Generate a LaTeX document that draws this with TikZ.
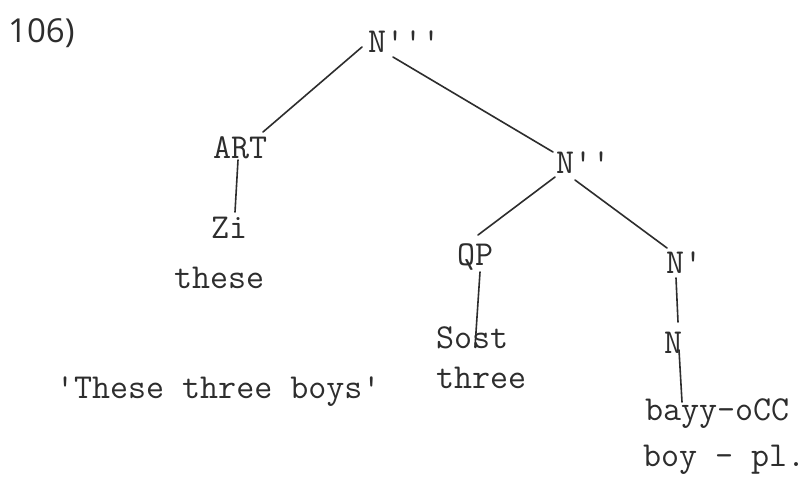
\documentclass[tikz,border=0pt]{standalone}
\usepackage{fontspec}
\newfontfamily\handfont{Open Sans}
\usetikzlibrary{calc}
\definecolor{ink}{RGB}{45,45,45}
\tikzset{
  tw/.style={anchor=base west, inner sep=0pt, outer sep=0pt, text=ink,
    font=\fontsize{35}{40}\selectfont\ttfamily},
  edge/.style={draw=ink, line width=1.6pt, line cap=round},
}
\newcommand{\q}{\textquotesingle}
\begin{document}
\begin{tikzpicture}[x=1pt,y=-1pt]
\useasboundingbox[fill=white] (0,0) rectangle (811,480);
\node[anchor=base west, inner sep=0pt, text=ink, font=\fontsize{33}{38}\selectfont\handfont] (num) at (8,42) {106)};
\node[tw] (n3) at (368,52) {N\q\q\q};
\node[tw] (art) at (213,158) {ART};
\node[tw] (zi) at (211,238) {Zi};
\node[tw] (these) at (174,288) {these};
\node[tw] (n2) at (556,173) {N\q\q};
\node[tw] (qp) at (457,265) {QP};
\node[tw] (sost) at (436,348) {Sost};
\node[tw] (three) at (436,388) {three};
\node[tw] (n1) at (666,273) {N\q};
\node[tw] (n) at (664,353) {N};
\node[tw] (bayy) at (645,420) {bayy-oCC};
\node[tw] (boy) at (643,466) {boy - pl.};
\node[tw] (gloss) at (56,398) {\q These three boys\q};
\draw[edge] ($(n3.base west)+(-6,-5)$) -- ($(art.base west)+(50,-26)$);
\draw[edge] ($(n3.base west)+(25,5)$) -- ($(n2.base west)+(-3,-21)$);
\draw[edge] ($(art.base west)+(25,2)$) -- ($(zi.base west)+(24,-26)$);
\draw[edge] ($(n2.base west)+(-1,4)$) -- ($(qp.base west)+(21,-30)$);
\draw[edge] ($(n2.base west)+(19,7)$) -- ($(n1.base west)+(1,-25)$);
\draw[edge] ($(qp.base west)+(23,7)$) -- ($(sost.base west)+(39,-1)$);
\draw[edge] ($(n1.base west)+(10,5)$) -- ($(n.base west)+(14,-31)$);
\draw[edge] ($(n.base west)+(15,-3)$) -- ($(bayy.base west)+(37,-18)$);
\end{tikzpicture}
\end{document}
